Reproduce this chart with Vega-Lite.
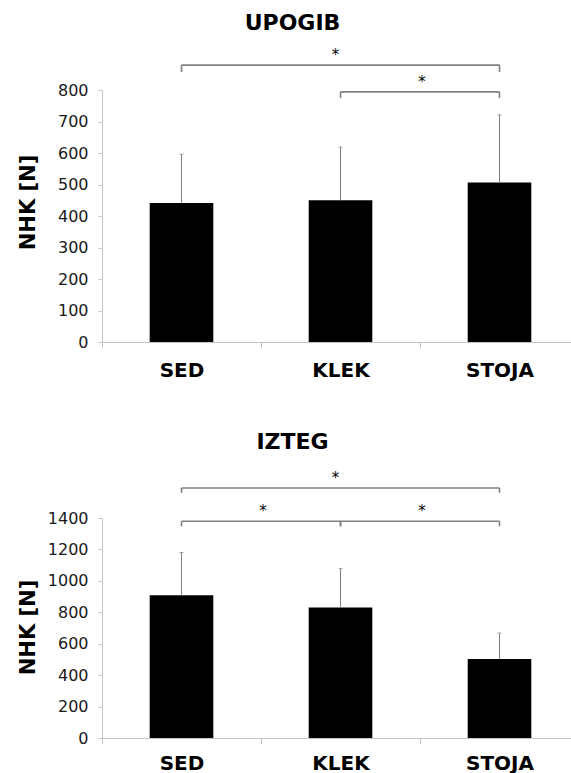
{
  "$schema": "https://vega.github.io/schema/vega-lite/v6.json",
  "background": "white",
  "padding": {"left": 16, "top": 12, "right": -9, "bottom": 0},
  "spacing": 50,
  "config": {
    "view": {"stroke": null},
    "font": "DejaVu Sans",
    "title": {"font": "DejaVu Sans", "fontSize": 22, "fontWeight": "bold", "color": "black", "anchor": "middle", "dx": -48},
    "axisX": {"title": null, "labelFont": "DejaVu Sans", "labelFontWeight": "bold", "labelFontSize": 20, "labelColor": "black", "labelAngle": 0, "labelPadding": 12, "tickBand": "extent", "tickSize": 6, "tickColor": "#c4c4c4", "domainColor": "#c4c4c4", "grid": false},
    "axisY": {"labelFont": "DejaVu Sans", "labelFontSize": 16, "labelColor": "#1a1a1a", "labelPadding": 10, "labelOverlap": false, "format": "d", "tickSize": 4, "tickColor": "#c4c4c4", "domainColor": "#c4c4c4", "grid": false, "titleFont": "DejaVu Sans", "titleFontSize": 21, "titleFontWeight": "bold", "titleColor": "black", "titleAngle": -90, "titleX": -74, "titleBaseline": "middle", "titleAlign": "center"}
  },
  "datasets": {
    "bars": [
      {"panel": "UPOGIB", "cat": "SED", "mean": 441, "upper": 596},
      {"panel": "UPOGIB", "cat": "KLEK", "mean": 450, "upper": 619},
      {"panel": "UPOGIB", "cat": "STOJA", "mean": 506, "upper": 721},
      {"panel": "IZTEG", "cat": "SED", "mean": 909, "upper": 1180},
      {"panel": "IZTEG", "cat": "KLEK", "mean": 831, "upper": 1078},
      {"panel": "IZTEG", "cat": "STOJA", "mean": 503, "upper": 668}
    ],
    "brackets": [
      {"panel": "UPOGIB", "from": "SED", "to": "STOJA", "level": 879, "low": 857, "star_at": "KLEK", "star_pos": "center"},
      {"panel": "UPOGIB", "from": "KLEK", "to": "STOJA", "level": 794, "low": 775, "star_at": "KLEK", "star_pos": "end"},
      {"panel": "IZTEG", "from": "SED", "to": "STOJA", "level": 1591, "low": 1560, "star_at": "KLEK", "star_pos": "center"},
      {"panel": "IZTEG", "from": "SED", "to": "KLEK", "level": 1379, "low": 1347, "star_at": "SED", "star_pos": "end"},
      {"panel": "IZTEG", "from": "KLEK", "to": "STOJA", "level": 1379, "low": 1347, "star_at": "KLEK", "star_pos": "end"}
    ]
  },
  "vconcat": [
    {
      "title": {"text": "UPOGIB", "offset": 13},
      "width": 477,
      "height": 252,
      "layer": [
        {
          "data": {"name": "bars"},
          "transform": [{"filter": "datum.panel === 'UPOGIB'"}],
          "mark": {"type": "bar", "color": "black", "width": {"band": 0.4}},
          "encoding": {
            "x": {"field": "cat", "type": "nominal", "scale": {"domain": ["SED", "KLEK", "STOJA"], "paddingInner": 0, "paddingOuter": 0}},
            "y": {"field": "mean", "type": "quantitative", "scale": {"domain": [0, 800], "nice": false}, "axis": {"title": "NHK [N]", "values": [0, 100, 200, 300, 400, 500, 600, 700, 800], "titleY": 112}}
          }
        },
        {
          "data": {"name": "bars"},
          "transform": [{"filter": "datum.panel === 'UPOGIB'"}],
          "mark": {"type": "rule", "color": "#7f7f7f", "strokeWidth": 1},
          "encoding": {
            "x": {"field": "cat", "type": "nominal", "scale": {"domain": ["SED", "KLEK", "STOJA"]}},
            "y": {"field": "mean", "type": "quantitative", "scale": {"domain": [0, 800], "nice": false}, "axis": {"title": "NHK [N]", "values": [0, 100, 200, 300, 400, 500, 600, 700, 800], "titleY": 112}},
            "y2": {"field": "upper"}
          }
        },
        {
          "data": {"name": "bars"},
          "transform": [{"filter": "datum.panel === 'UPOGIB'"}],
          "mark": {"type": "tick", "color": "#7f7f7f", "size": 4, "thickness": 1},
          "encoding": {
            "x": {"field": "cat", "type": "nominal", "scale": {"domain": ["SED", "KLEK", "STOJA"]}},
            "y": {"field": "upper", "type": "quantitative", "scale": {"domain": [0, 800], "nice": false}, "axis": {"title": "NHK [N]", "values": [0, 100, 200, 300, 400, 500, 600, 700, 800], "titleY": 112}}
          }
        },
        {
          "data": {"name": "brackets"},
          "transform": [{"filter": "datum.panel === 'UPOGIB'"}],
          "mark": {"type": "rule", "color": "#808080", "strokeWidth": 1.6},
          "encoding": {
            "x": {"field": "from", "type": "nominal", "scale": {"domain": ["SED", "KLEK", "STOJA"]}},
            "x2": {"field": "to"},
            "y": {"field": "level", "type": "quantitative", "scale": {"domain": [0, 800], "nice": false}, "axis": {"title": "NHK [N]", "values": [0, 100, 200, 300, 400, 500, 600, 700, 800], "titleY": 112}}
          }
        },
        {
          "data": {"name": "brackets"},
          "transform": [{"filter": "datum.panel === 'UPOGIB'"}, {"fold": ["from", "to"], "as": ["end", "endcat"]}],
          "mark": {"type": "rule", "color": "#808080", "strokeWidth": 1.6},
          "encoding": {
            "x": {"field": "endcat", "type": "nominal", "scale": {"domain": ["SED", "KLEK", "STOJA"]}},
            "y": {"field": "level", "type": "quantitative", "scale": {"domain": [0, 800], "nice": false}, "axis": {"title": "NHK [N]", "values": [0, 100, 200, 300, 400, 500, 600, 700, 800], "titleY": 112}},
            "y2": {"field": "low"}
          }
        },
        {
          "data": {"name": "brackets"},
          "transform": [{"filter": "datum.panel === 'UPOGIB' && datum.star_pos === 'center'"}],
          "mark": {"type": "text", "text": "*", "fontSize": 15, "color": "black", "baseline": "alphabetic", "dy": -5, "dx": -5},
          "encoding": {
            "x": {"field": "star_at", "type": "nominal", "scale": {"domain": ["SED", "KLEK", "STOJA"]}},
            "y": {"field": "level", "type": "quantitative", "scale": {"domain": [0, 800], "nice": false}, "axis": {"title": "NHK [N]", "values": [0, 100, 200, 300, 400, 500, 600, 700, 800], "titleY": 112}}
          }
        },
        {
          "data": {"name": "brackets"},
          "transform": [{"filter": "datum.panel === 'UPOGIB' && datum.star_pos === 'end'"}],
          "mark": {"type": "text", "text": "*", "fontSize": 15, "color": "black", "baseline": "alphabetic", "dy": -5, "dx": 2},
          "encoding": {
            "x": {"field": "star_at", "type": "nominal", "bandPosition": 1, "scale": {"domain": ["SED", "KLEK", "STOJA"]}},
            "y": {"field": "level", "type": "quantitative", "scale": {"domain": [0, 800], "nice": false}, "axis": {"title": "NHK [N]", "values": [0, 100, 200, 300, 400, 500, 600, 700, 800], "titleY": 112}}
          }
        }
      ]
    },
    {
      "title": {"text": "IZTEG", "offset": 17},
      "width": 477,
      "height": 220,
      "layer": [
        {
          "data": {"name": "bars"},
          "transform": [{"filter": "datum.panel === 'IZTEG'"}],
          "mark": {"type": "bar", "color": "black", "width": {"band": 0.4}},
          "encoding": {
            "x": {"field": "cat", "type": "nominal", "scale": {"domain": ["SED", "KLEK", "STOJA"], "paddingInner": 0, "paddingOuter": 0}, "axis": {"labelPadding": 9}},
            "y": {"field": "mean", "type": "quantitative", "scale": {"domain": [0, 1400], "nice": false}, "axis": {"title": "NHK [N]", "values": [0, 200, 400, 600, 800, 1000, 1200, 1400], "titleY": 109}}
          }
        },
        {
          "data": {"name": "bars"},
          "transform": [{"filter": "datum.panel === 'IZTEG'"}],
          "mark": {"type": "rule", "color": "#7f7f7f", "strokeWidth": 1},
          "encoding": {
            "x": {"field": "cat", "type": "nominal", "scale": {"domain": ["SED", "KLEK", "STOJA"]}, "axis": {"labelPadding": 9}},
            "y": {"field": "mean", "type": "quantitative", "scale": {"domain": [0, 1400], "nice": false}, "axis": {"title": "NHK [N]", "values": [0, 200, 400, 600, 800, 1000, 1200, 1400], "titleY": 109}},
            "y2": {"field": "upper"}
          }
        },
        {
          "data": {"name": "bars"},
          "transform": [{"filter": "datum.panel === 'IZTEG'"}],
          "mark": {"type": "tick", "color": "#7f7f7f", "size": 4, "thickness": 1},
          "encoding": {
            "x": {"field": "cat", "type": "nominal", "scale": {"domain": ["SED", "KLEK", "STOJA"]}, "axis": {"labelPadding": 9}},
            "y": {"field": "upper", "type": "quantitative", "scale": {"domain": [0, 1400], "nice": false}, "axis": {"title": "NHK [N]", "values": [0, 200, 400, 600, 800, 1000, 1200, 1400], "titleY": 109}}
          }
        },
        {
          "data": {"name": "brackets"},
          "transform": [{"filter": "datum.panel === 'IZTEG'"}],
          "mark": {"type": "rule", "color": "#808080", "strokeWidth": 1.6},
          "encoding": {
            "x": {"field": "from", "type": "nominal", "scale": {"domain": ["SED", "KLEK", "STOJA"]}, "axis": {"labelPadding": 9}},
            "x2": {"field": "to"},
            "y": {"field": "level", "type": "quantitative", "scale": {"domain": [0, 1400], "nice": false}, "axis": {"title": "NHK [N]", "values": [0, 200, 400, 600, 800, 1000, 1200, 1400], "titleY": 109}}
          }
        },
        {
          "data": {"name": "brackets"},
          "transform": [{"filter": "datum.panel === 'IZTEG'"}, {"fold": ["from", "to"], "as": ["end", "endcat"]}],
          "mark": {"type": "rule", "color": "#808080", "strokeWidth": 1.6},
          "encoding": {
            "x": {"field": "endcat", "type": "nominal", "scale": {"domain": ["SED", "KLEK", "STOJA"]}, "axis": {"labelPadding": 9}},
            "y": {"field": "level", "type": "quantitative", "scale": {"domain": [0, 1400], "nice": false}, "axis": {"title": "NHK [N]", "values": [0, 200, 400, 600, 800, 1000, 1200, 1400], "titleY": 109}},
            "y2": {"field": "low"}
          }
        },
        {
          "data": {"name": "brackets"},
          "transform": [{"filter": "datum.panel === 'IZTEG' && datum.star_pos === 'center'"}],
          "mark": {"type": "text", "text": "*", "fontSize": 15, "color": "black", "baseline": "alphabetic", "dy": -5, "dx": -5},
          "encoding": {
            "x": {"field": "star_at", "type": "nominal", "scale": {"domain": ["SED", "KLEK", "STOJA"]}, "axis": {"labelPadding": 9}},
            "y": {"field": "level", "type": "quantitative", "scale": {"domain": [0, 1400], "nice": false}, "axis": {"title": "NHK [N]", "values": [0, 200, 400, 600, 800, 1000, 1200, 1400], "titleY": 109}}
          }
        },
        {
          "data": {"name": "brackets"},
          "transform": [{"filter": "datum.panel === 'IZTEG' && datum.star_pos === 'end'"}],
          "mark": {"type": "text", "text": "*", "fontSize": 15, "color": "black", "baseline": "alphabetic", "dy": -5, "dx": 2},
          "encoding": {
            "x": {"field": "star_at", "type": "nominal", "bandPosition": 1, "scale": {"domain": ["SED", "KLEK", "STOJA"]}, "axis": {"labelPadding": 9}},
            "y": {"field": "level", "type": "quantitative", "scale": {"domain": [0, 1400], "nice": false}, "axis": {"title": "NHK [N]", "values": [0, 200, 400, 600, 800, 1000, 1200, 1400], "titleY": 109}}
          }
        }
      ]
    }
  ]
}
